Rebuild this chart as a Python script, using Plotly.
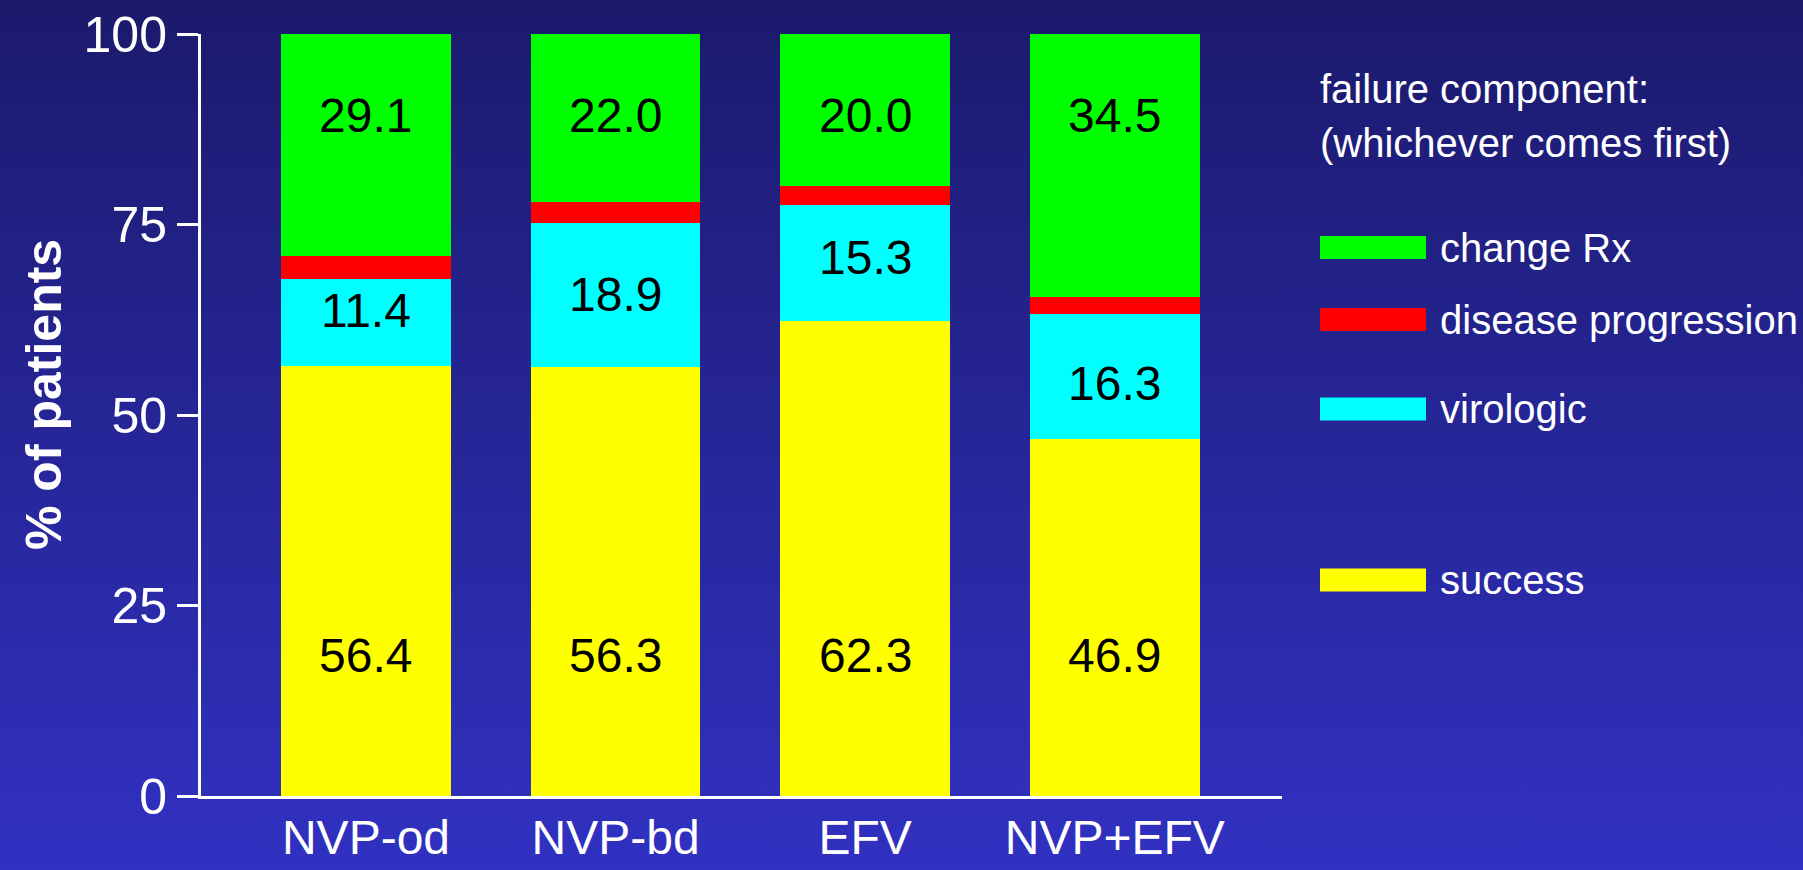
import base64
import plotly.graph_objects as go

# ---- data ----
categories = ["NVP-od", "NVP-bd", "EFV", "NVP+EFV"]
success = [56.4, 56.3, 62.3, 46.9]
virologic = [11.4, 18.9, 15.3, 16.3]
disease_progression = [3.1, 2.8, 2.4, 2.3]
change_rx = [29.1, 22.0, 20.0, 34.5]
y_ticks = [0, 25, 50, 75, 100]

series = [
    ("success", success, "#FFFF00"),
    ("virologic", virologic, "#00FFFF"),
    ("disease progression", disease_progression, "#FF0000"),
    ("change Rx", change_rx, "#00FF00"),
]

W, H = 1803, 870
L, R, T, B = 201, 521, 34, 74
PW, PH = W - L - R, H - T - B
FONT = "Liberation Sans, Arial, sans-serif"


def px_x(px):
    return (px - L) / PW


def px_y(py):
    return (H - B - py) / PH


fig = go.Figure()
for name, vals, col in series:
    fig.add_trace(go.Bar(
        x=list(range(len(categories))), y=vals, name=name,
        marker=dict(color=col, line=dict(width=0)),
        width=0.68, showlegend=False, hoverinfo="y+name",
    ))

# value labels (label placement styling)
SUCCESS_LABEL_Y = 18.5
CHANGE_LABEL_Y = 89.3
VIRO_LABEL_NUDGE = [1.6, 0.0, 0.7, -0.9]
ann = []
for i in range(len(categories)):
    labels = [
        (success[i], SUCCESS_LABEL_Y),
        (virologic[i], success[i] + virologic[i] / 2 + VIRO_LABEL_NUDGE[i]),
        (change_rx[i], CHANGE_LABEL_Y),
    ]
    for v, yy in labels:
        ann.append(dict(x=i, y=yy, xref="x", yref="y", text=f"{v:.1f}",
                        showarrow=False, font=dict(family=FONT, size=48, color="black"),
                        xanchor="center", yanchor="middle"))

# y-axis title
ann.append(dict(x=px_x(44), y=px_y(395), xref="paper", yref="paper",
                text="<b>% of patients</b>", textangle=-90, showarrow=False,
                font=dict(family=FONT, size=50, color="white"),
                xanchor="center", yanchor="middle"))

# legend (manual)
ann.append(dict(x=px_x(1318), y=px_y(89), xref="paper", yref="paper",
                text="failure component:", showarrow=False, xanchor="left", yanchor="middle",
                font=dict(family=FONT, size=40, color="white")))
ann.append(dict(x=px_x(1318), y=px_y(143), xref="paper", yref="paper",
                text="(whichever comes first)", showarrow=False, xanchor="left", yanchor="middle",
                font=dict(family=FONT, size=40, color="white")))

legend_items = [("change Rx", "#00FF00", 247.5), ("disease progression", "#FF0000", 319.5),
                ("virologic", "#00FFFF", 409), ("success", "#FFFF00", 580)]
shapes = []
for name, col, cy in legend_items:
    shapes.append(dict(type="rect", xref="paper", yref="paper",
                       x0=px_x(1320), x1=px_x(1426), y0=px_y(cy + 11.5), y1=px_y(cy - 11.5),
                       fillcolor=col, line=dict(width=0), layer="above"))
    ann.append(dict(x=px_x(1438), y=px_y(cy), xref="paper", yref="paper", text=name,
                    showarrow=False, xanchor="left", yanchor="middle",
                    font=dict(family=FONT, size=40, color="white")))

# gradient background
svg = (f'<svg xmlns="http://www.w3.org/2000/svg" width="{W}" height="{H}" preserveAspectRatio="none">'
       '<defs><linearGradient id="g" x1="0" y1="0" x2="0" y2="1">'
       '<stop offset="0" stop-color="#1b1a6c"/><stop offset="1" stop-color="#3131c2"/>'
       '</linearGradient></defs><rect width="100%" height="100%" fill="url(#g)"/></svg>')
uri = "data:image/svg+xml;base64," + base64.b64encode(svg.encode()).decode()

fig.update_layout(
    width=W, height=H, barmode="stack",
    margin=dict(l=L, r=R, t=T, b=B, pad=0, autoexpand=False),
    paper_bgcolor="#2626a0", plot_bgcolor="rgba(0,0,0,0)",
    font=dict(family=FONT, color="white"),
    annotations=ann, shapes=shapes,
    images=[dict(source=uri, xref="paper", yref="paper", x=px_x(0), y=px_y(0),
                 sizex=W / PW, sizey=H / PH, xanchor="left", yanchor="top",
                 sizing="stretch", layer="below")],
    xaxis=dict(range=[-0.661, 3.67], tickmode="array", tickvals=list(range(len(categories))),
               ticktext=categories, showgrid=False, zeroline=False, showline=True,
               linecolor="white", linewidth=3, ticks="", ticklabelstandoff=-3,
               automargin=False,
               tickfont=dict(family=FONT, size=48, color="white"), fixedrange=True),
    yaxis=dict(range=[0, 100], tickvals=y_ticks, showgrid=False, zeroline=False,
               showline=True, linecolor="white", linewidth=3, ticks="outside",
               ticklen=21, tickwidth=3, tickcolor="white", automargin=False,
               tickfont=dict(family=FONT, size=50, color="white"), fixedrange=True),
)

fig.write_html("out.html", config={"displayModeBar": False})
